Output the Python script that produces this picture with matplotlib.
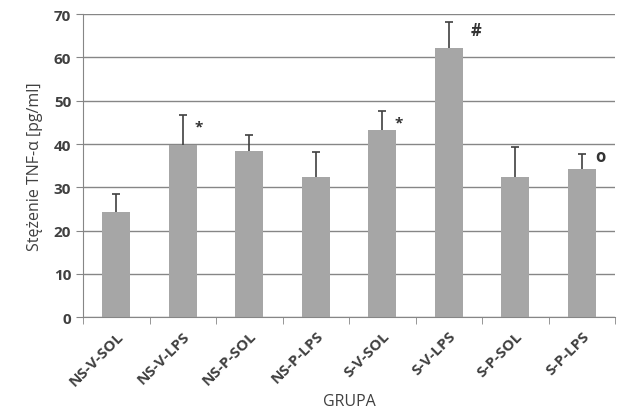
import matplotlib.pyplot as plt
import numpy as np

groups = ["NS-V-SOL", "NS-V-LPS", "NS-P-SOL", "NS-P-LPS",
          "S-V-SOL", "S-V-LPS", "S-P-SOL", "S-P-LPS"]
tnf_mean = [24.2, 39.7, 38.3, 32.3, 43.2, 62.1, 32.3, 34.2]
tnf_sd = [4.2, 6.9, 3.9, 5.8, 4.4, 6.0, 6.9, 3.4]
marks = ["", "*", "", "", "*", "#", "", "o"]

plt.rcParams['font.family'] = ['Open Sans', 'DejaVu Sans']
txt_col = "#404040"

fig = plt.figure(figsize=(6.2, 4.1), dpi=100)
ax = fig.add_axes([0.134, 0.224, 0.858, 0.739])

x = np.arange(len(groups))
ax.bar(x, tnf_mean, width=0.42, color="#a6a6a6", zorder=2)
_, caps, _ = ax.errorbar(x, tnf_mean, yerr=[np.zeros(len(x)), tnf_sd], fmt="none",
                         ecolor="#404040", elinewidth=1.2, capsize=3, capthick=1.2,
                         zorder=3)
# only the upper whisker gets a cap
caps[0].set_visible(False)

for i, m in enumerate(marks):
    if not m:
        continue
    top = tnf_mean[i] + tnf_sd[i]
    if m == "*":
        ax.text(i + 0.18, top - 2.6, m, fontsize=11, fontweight="bold",
                color="#333333", ha="left", va="center")
    elif m == "#":
        ax.text(i + 0.33, top - 1.8, m, fontsize=12, fontweight="bold",
                color="#333333", ha="left", va="center")
    else:
        ax.text(i + 0.2, top - 0.4, m, fontsize=12, fontweight="bold",
                color="#333333", ha="left", va="center")

ax.set_xlim(-0.5, len(groups) - 0.5)
ax.set_ylim(0, 70)
ax.set_yticks(range(0, 71, 10))
ax.yaxis.grid(True, color="#868686", linewidth=1.0, zorder=0)
ax.set_axisbelow(True)

ax.set_xticks(x)
ax.set_xticklabels(groups, rotation=45, ha="right", rotation_mode="anchor",
                   fontsize=11, fontweight="bold", color=txt_col)
ax.set_xticks(np.arange(-0.5, len(groups), 1), minor=True)
ax.tick_params(axis="x", which="major", length=0, pad=8)
ax.tick_params(axis="x", which="minor", length=5, color="#868686")
ax.tick_params(axis="y", length=5, color="#868686", labelsize=11, labelcolor=txt_col)
for lbl in ax.get_yticklabels():
    lbl.set_fontweight("bold")

for side in ["top", "right"]:
    ax.spines[side].set_visible(False)
for side in ["left", "bottom"]:
    ax.spines[side].set_color("#868686")

ax.set_ylabel("Stężenie TNF-α [pg/ml]", fontsize=11.5, color=txt_col, labelpad=8)
ax.set_xlabel("GRUPA", fontsize=11.5, color=txt_col, labelpad=4)

fig.savefig("out.png", dpi=100)
